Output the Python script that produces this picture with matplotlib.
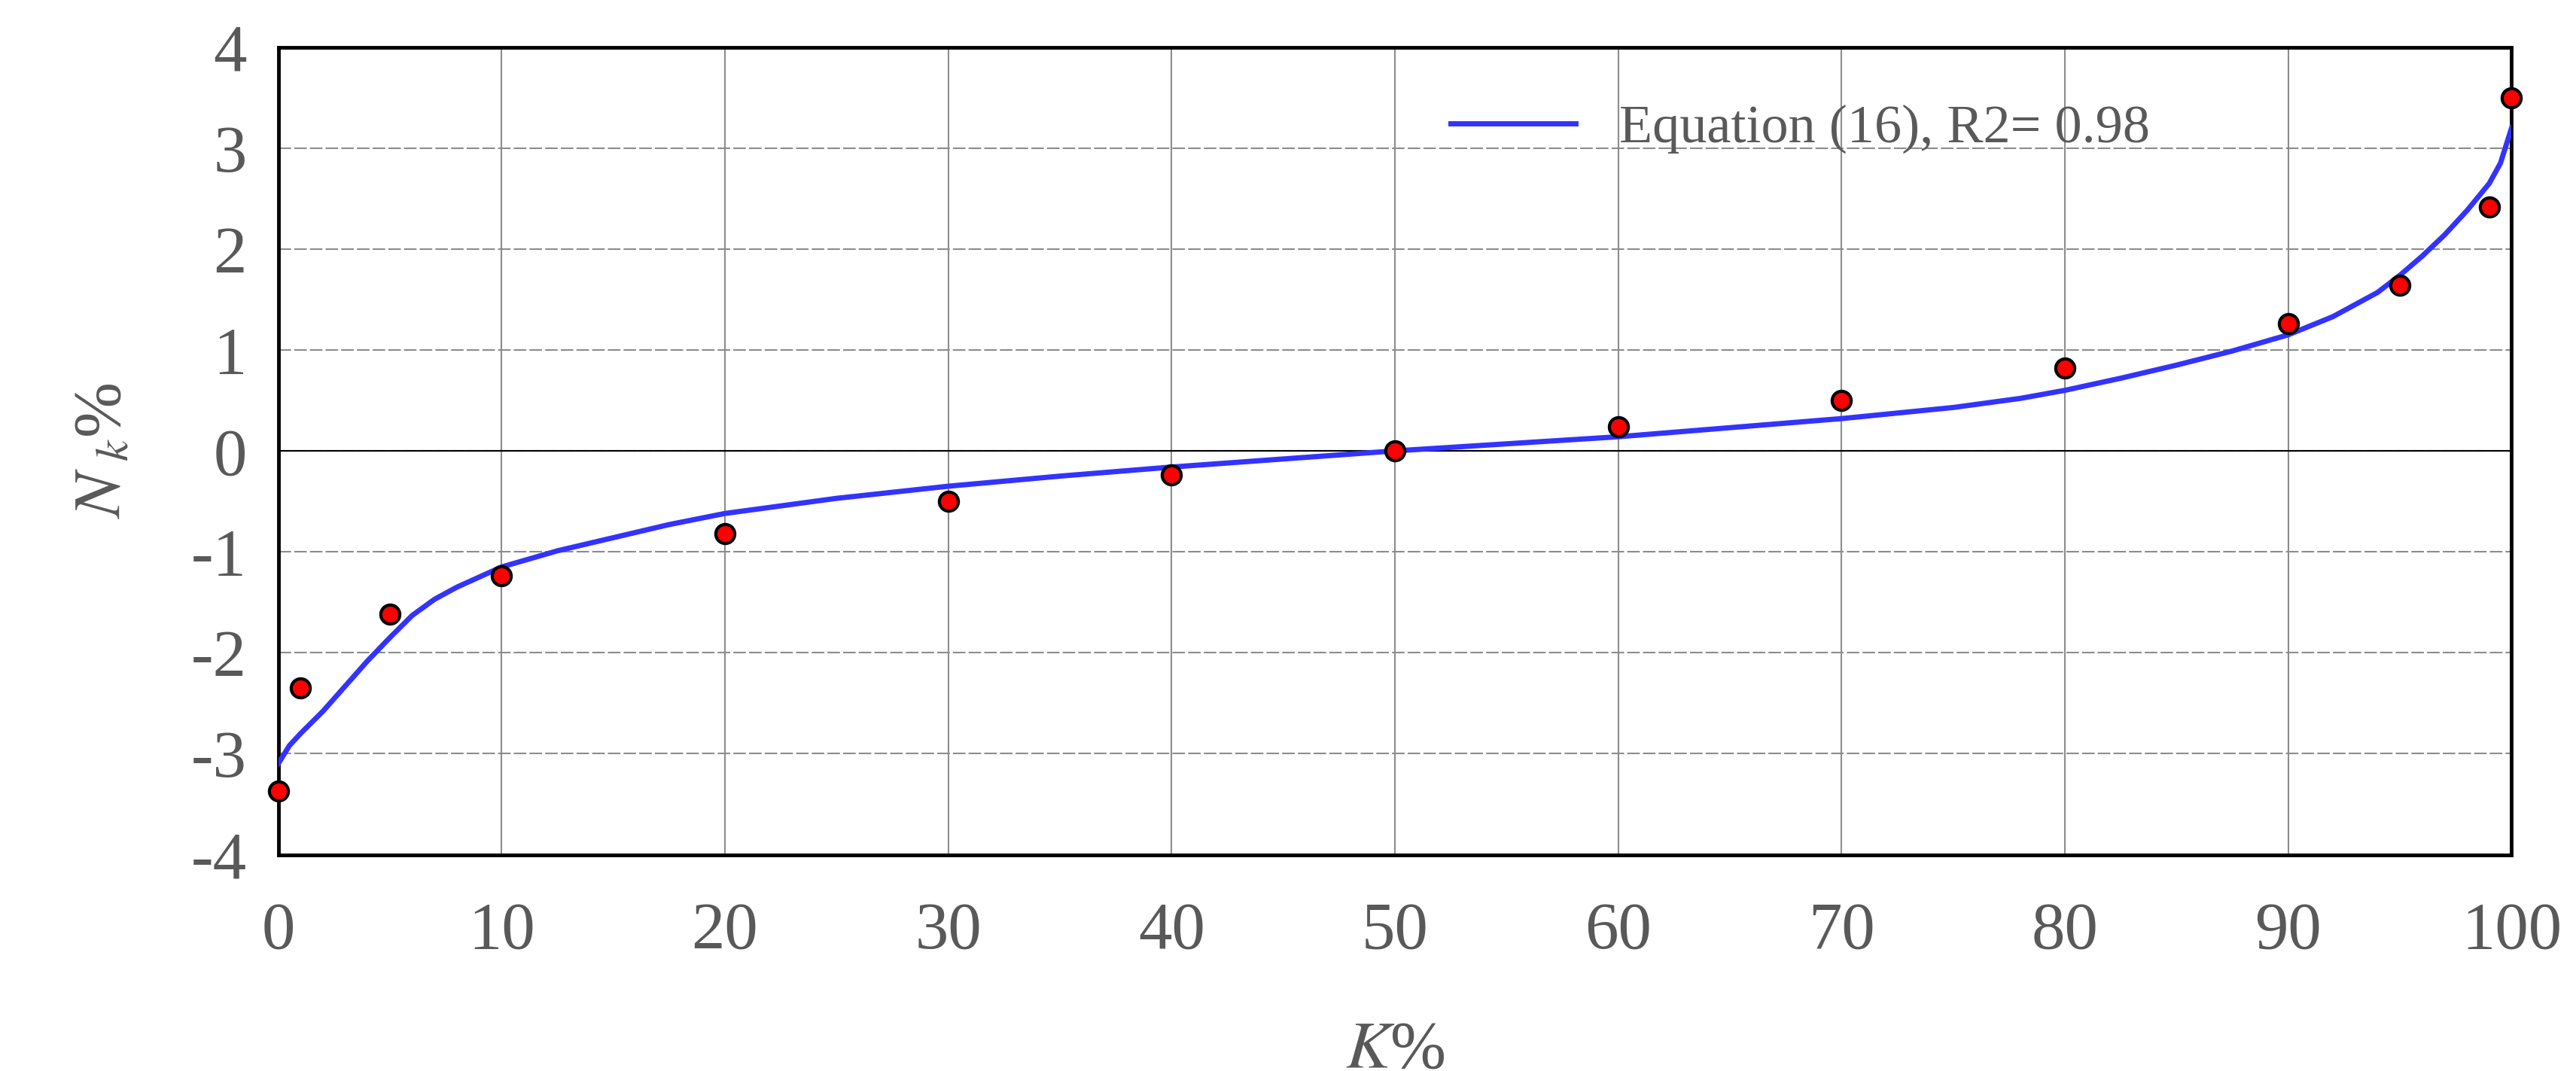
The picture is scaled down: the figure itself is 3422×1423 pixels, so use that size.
import matplotlib
matplotlib.use("Agg")
import matplotlib.pyplot as plt

# measured points
k_pts = [0, 1, 5, 10, 20, 30, 40, 50, 60, 70, 80, 90, 95, 99, 100]
n_pts = [-3.37, -2.35, -1.62, -1.24, -0.82, -0.50, -0.24, 0.0, 0.24, 0.50, 0.82, 1.26, 1.64, 2.42, 3.50]

# fitted curve, Equation (16)
k_fit = [0, 0.5, 1, 2, 3, 4, 5, 6, 7, 8, 10, 12.5, 15, 17.5, 20, 25, 30, 35, 40, 45, 50, 55, 60, 65,
         70, 75, 78, 80, 82.5, 85, 87.5, 90, 92, 94, 95, 96, 97, 98, 99, 99.5, 100]
n_fit = [-3.1, -2.92, -2.8, -2.58, -2.33, -2.08, -1.85, -1.63, -1.47, -1.35, -1.15, -0.99, -0.86,
         -0.73, -0.62, -0.47, -0.35, -0.25, -0.16, -0.08, 0.0, 0.07, 0.14, 0.23, 0.32, 0.43, 0.52,
         0.6, 0.72, 0.85, 0.99, 1.15, 1.33, 1.57, 1.74, 1.93, 2.14, 2.38, 2.65, 2.85, 3.2]

gray = "#595959"
plt.rcParams["font.family"] = ["Liberation Serif", "DejaVu Serif"]
plt.rcParams["mathtext.fontset"] = "stix"
plt.rcParams["axes.unicode_minus"] = False

fig = plt.figure(figsize=(34.22, 14.23), dpi=100)
ax = fig.add_axes([0.108, 0.202, 0.867, 0.754])

ax.plot(k_fit, n_fit, color="#3333ff", lw=5, label="Equation (16), R2= 0.98", zorder=3)
ax.scatter(k_pts, n_pts, s=330, color="red", edgecolor="black", linewidth=3, zorder=4, clip_on=False)

ax.set_xlim(0, 100)
ax.set_ylim(-4, 4)
ax.set_xticks(range(0, 101, 10))
ax.set_yticks(range(-4, 5))
ax.xaxis.grid(True, color="#8c8c8c", lw=1.5)
ax.yaxis.grid(True, color="#8c8c8c", lw=1.5, ls=(0, (8, 2)))
ax.axhline(0, color="black", lw=1.5, zorder=2)
ax.set_axisbelow(True)
for s in ax.spines.values():
    s.set_linewidth(3.5)
ax.tick_params(length=0, labelsize=64, labelcolor=gray, pad=30)
ax.tick_params(axis="x", pad=45)

ax.set_xlabel(r"$K$%", fontsize=64, color=gray, labelpad=55)
ax.set_ylabel(r"$N_{\ k}$%", fontsize=64, color=gray, labelpad=55)

ax.legend(loc="upper right", bbox_to_anchor=(0.86, 0.99), frameon=False, fontsize=52,
          labelcolor=gray, handlelength=2.3)

fig.savefig("out.png", dpi=100)
